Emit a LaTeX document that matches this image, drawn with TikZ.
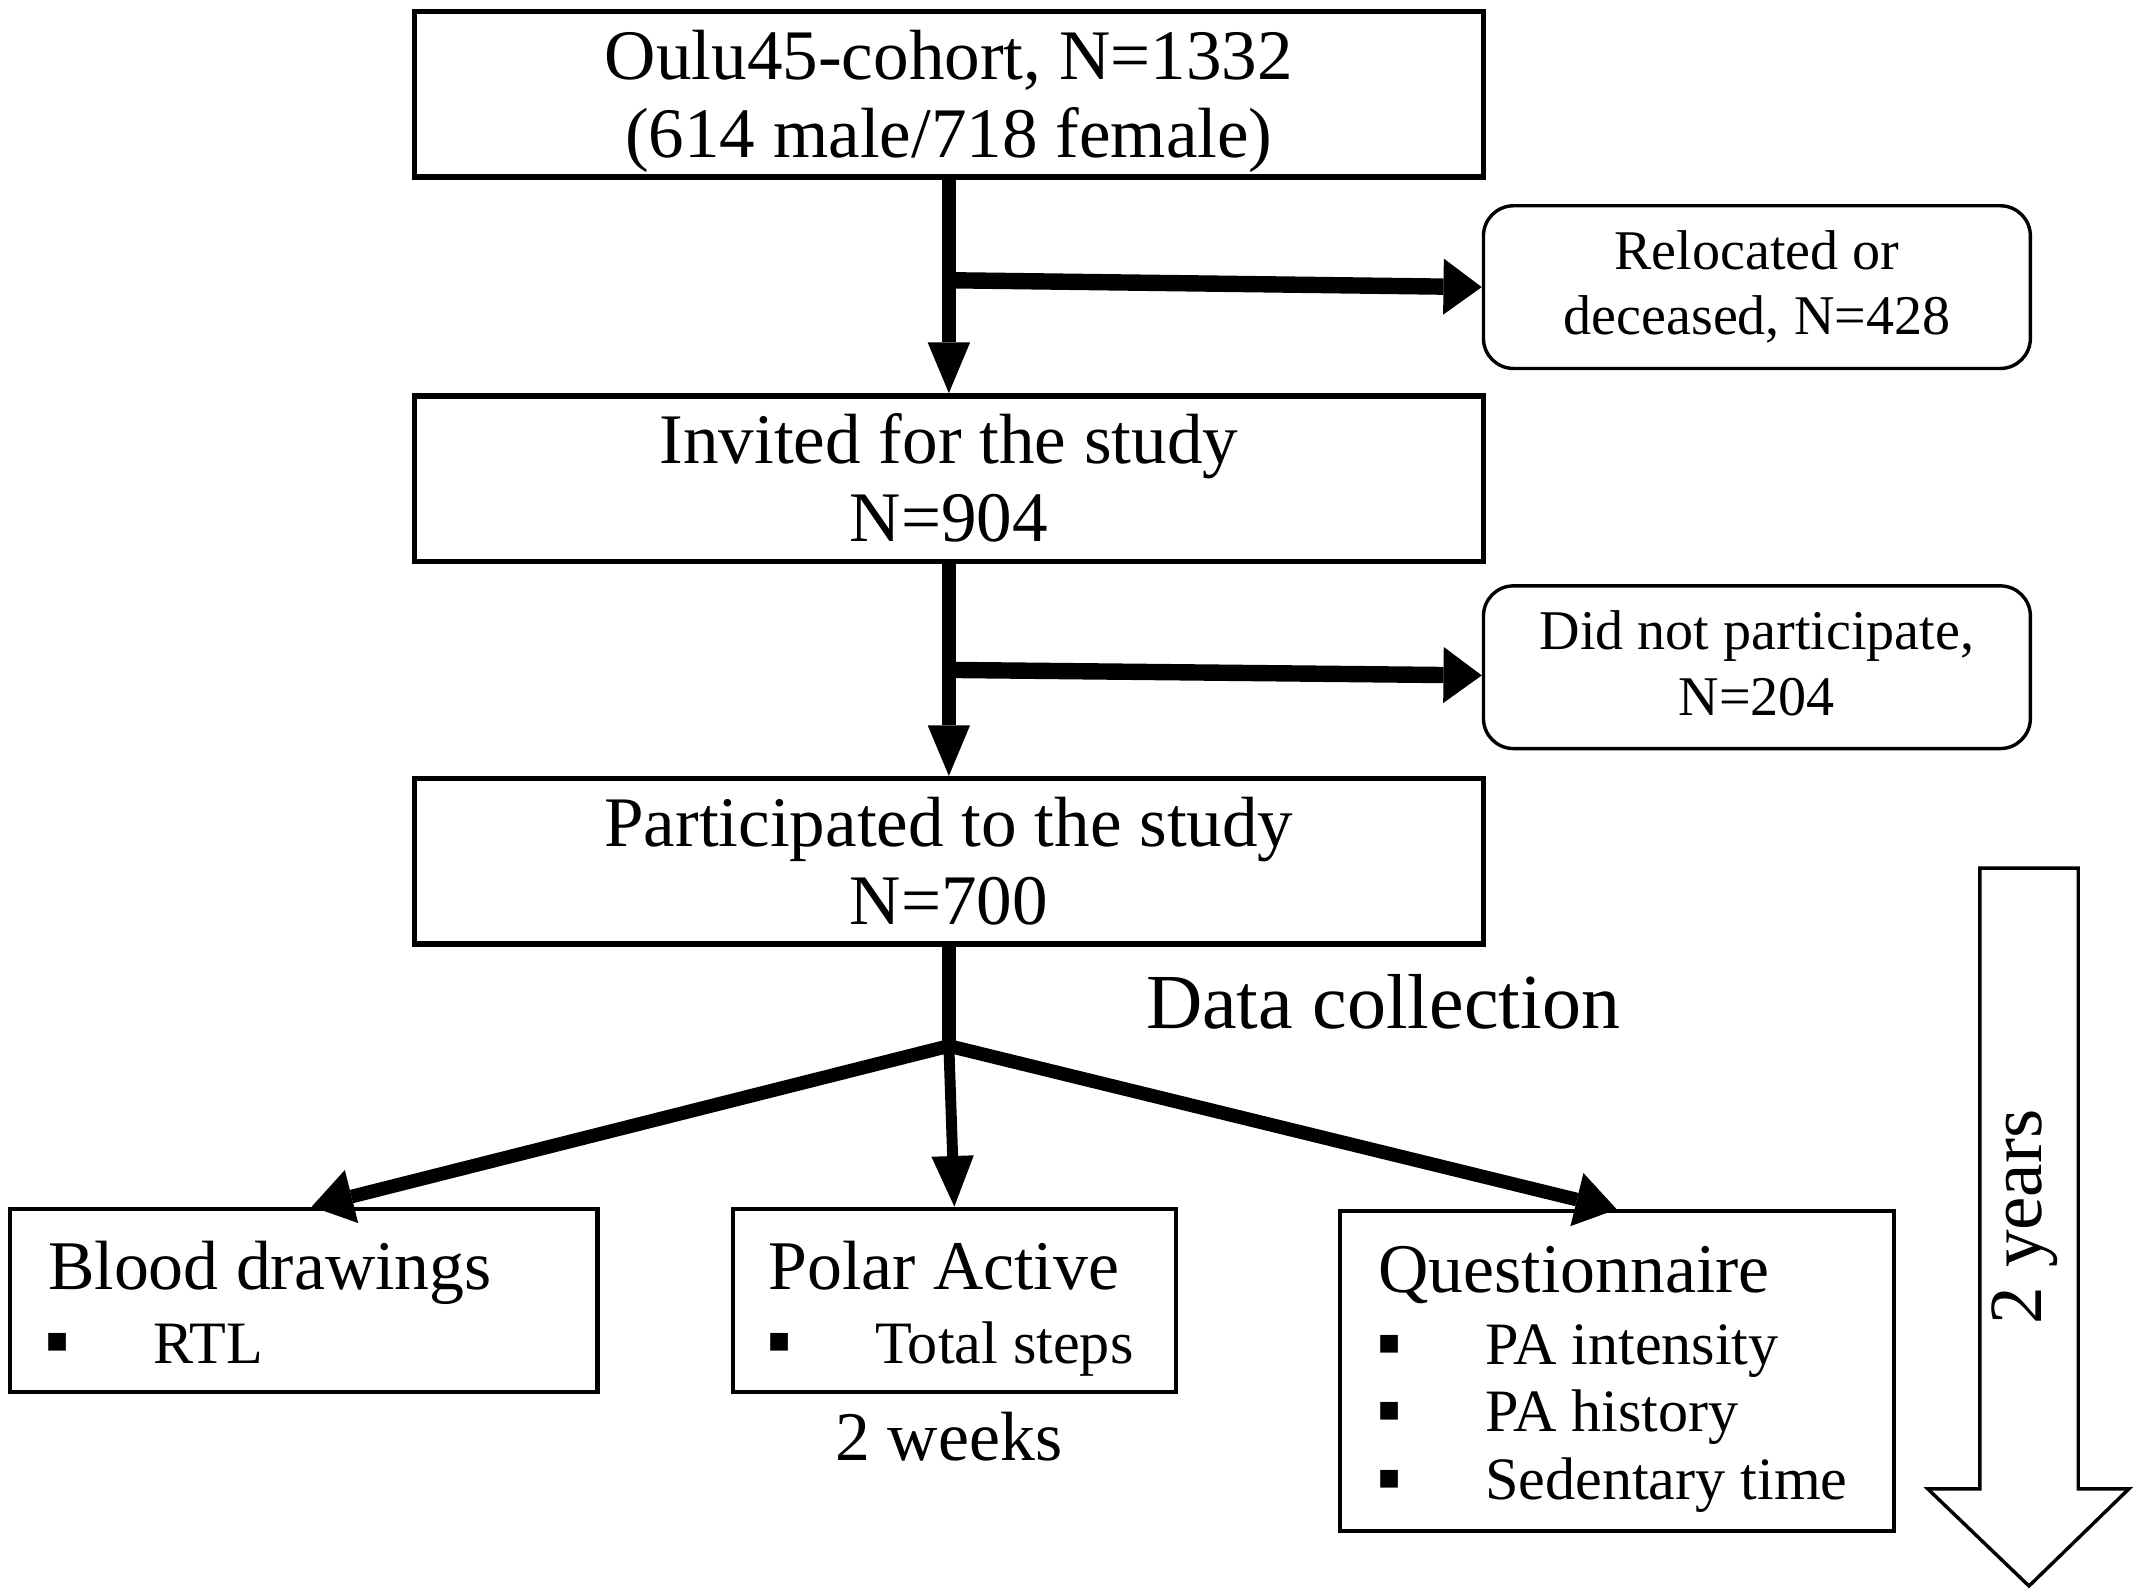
\documentclass[tikz,border=0pt]{standalone}
\usepackage{fontspec}
\setmainfont{Liberation Serif}
\newfontfamily\symfont{DejaVu Sans}
\usetikzlibrary{arrows.meta}
\begin{document}
\begin{tikzpicture}[x=1pt,y=-1pt,
  mainbox/.style={draw, line width=4pt, minimum width=782pt, minimum height=121pt, align=center, inner sep=0pt, text height=102pt, text depth=10pt, font=\fontsize{52}{57}\selectfont},
  sidebox/.style={draw, line width=2.5pt, rounded corners=22pt, minimum width=400pt, minimum height=119pt, align=center, inner sep=0pt, text height=78pt, text depth=8pt, font=\fontsize{41}{48}\selectfont},
  subbox/.style={draw, line width=3pt, inner sep=0pt},
  titletext/.style={anchor=base west, inner sep=0pt, font=\fontsize{51}{55}\selectfont},
  itemtext/.style={anchor=base west, inner sep=0pt, font=\fontsize{44}{48}\selectfont},
  bulletmark/.style={inner sep=0pt, font=\symfont\fontsize{26}{26}\selectfont},
  flow/.style={line width=10pt, -{Triangle[length=37pt,width=31pt,line width=0pt]}},
  sidearrow/.style={line width=12pt, -{Triangle[length=28pt,width=41pt,line width=0pt]}},
  diagarrow/.style={line width=10pt, -{Triangle[length=30pt,width=40pt,line width=0pt]}},
  trunk/.style={line width=10pt}
]
\useasboundingbox (0,0) rectangle (1563,1166);
% main boxes
\node[mainbox] (b1) at (694,69) {Oulu45-cohort, N=1332\\(614 male/718 female)};
\node[mainbox] (b2) at (694,350) {Invited for the study\\N=904};
\node[mainbox] (b3) at (694,630) {Participated to the study\\N=700};
% side boxes
\node[sidebox] (r1) at (1285,210) {Relocated or\\deceased, N=428};
\node[sidebox] (r2) at (1285,488) {Did not participate,\\N=204};
% vertical flow
\draw[flow] (b1.south) -- (b2.north);
\draw[flow] (b2.south) -- (b3.north);
\coordinate (s1) at (697,205);
\coordinate (s2) at (697,490);
\draw[sidearrow] (s1) -- (r1.west);
\draw[sidearrow] (s2) -- ([yshift=-6pt]r2.west);
% lower boxes
\node[subbox, minimum width=430pt, minimum height=134pt] (bl) at (222,951) {};
\node[subbox, minimum width=324pt, minimum height=134pt] (po) at (698,951) {};
\node[subbox, minimum width=405pt, minimum height=234pt] (qu) at (1182.5,1003) {};
% data collection
\node[anchor=base west, inner sep=0pt, font=\fontsize{57}{60}\selectfont] (dc) at (838,752) {Data collection};
\coordinate (j) at (694,765);
\draw[trunk] (b3.south) -- (j);
\draw[diagarrow] (j) -- ([xshift=6pt]bl.north);
\draw[flow, line width=8pt] (j) -- (po.north);
\draw[diagarrow] (j) -- (qu.north);
% lower box texts
\node[titletext] (blt) at (35,943) {Blood drawings};
\node[bulletmark] (blb) at (42,982) {▪};
\node[itemtext] (bli) at (112,997) {RTL};
\node[titletext] (pot) at (562,943) {Polar Active};
\node[bulletmark] (pob) at (570,982) {▪};
\node[itemtext] (poi) at (640,997) {Total steps};
\node[anchor=base, inner sep=0pt, font=\fontsize{51}{55}\selectfont] (wk) at (694,1068) {2 weeks};
\node[titletext] (qut) at (1008,945) {Questionnaire};
\node[bulletmark] (qb1) at (1016,983) {▪};
\node[itemtext] (qi1) at (1086,998) {PA intensity};
\node[bulletmark] (qb2) at (1016,1032) {▪};
\node[itemtext] (qi2) at (1086,1047) {PA history};
\node[bulletmark] (qb3) at (1016,1082) {▪};
\node[itemtext] (qi3) at (1086,1097) {Sedentary time};
% two years arrow
\draw[line width=2.5pt, line join=miter] (1448,635) -- (1520,635) -- (1520,1089) -- (1557,1089) -- (1484,1160) -- (1410,1089) -- (1448,1089) -- cycle;
\node[rotate=90, inner sep=0pt, font=\fontsize{55}{58}\selectfont] (yr) at (1481,890) {2 years};
\end{tikzpicture}
\end{document}
